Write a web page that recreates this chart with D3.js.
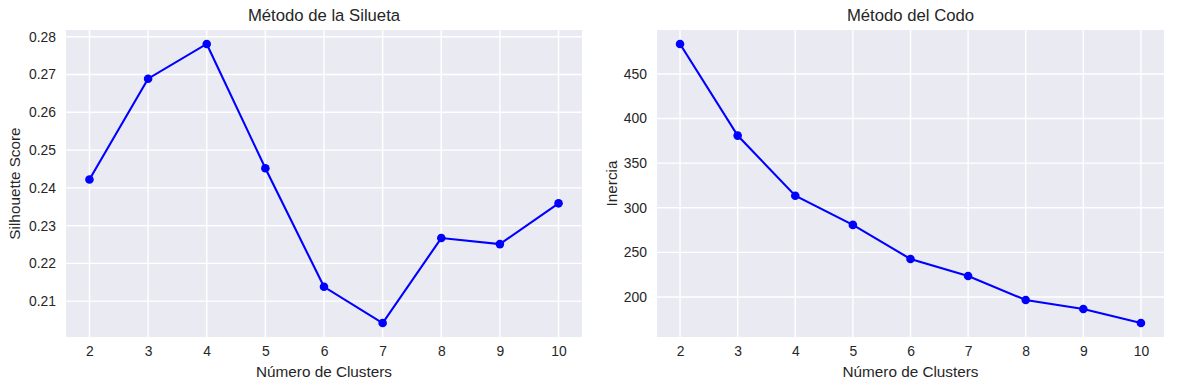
<!DOCTYPE html>
<html><head><meta charset="utf-8">
<script src="https://cdn.jsdelivr.net/npm/d3@7"></script>
<style>
body{margin:0;background:#fff;}
text{font-family:"Liberation Sans",Arial,sans-serif;fill:#262626;}
</style></head>
<body><svg id="c" width="1189" height="390"></svg>
<script>
const clusters = [2,3,4,5,6,7,8,9,10];
const silhouette = [0.2422,0.2689,0.2781,0.2452,0.2138,0.2042,0.2267,0.2251,0.2359];
const inertia = [483.6,380.9,313.5,280.8,242.6,223.6,196.6,186.5,170.8];
const silTicks = [0.21,0.22,0.23,0.24,0.25,0.26,0.27,0.28];
const inTicks = [200,250,300,350,400,450];
const xTicks = [2,3,4,5,6,7,8,9,10];

const svg = d3.select("#c");

function panel(o){
  const g = svg.append("g");
  const x = d3.scaleLinear().domain([1.6,10.4]).range([o.left,o.right]);
  const ext = d3.extent(o.values), m=(ext[1]-ext[0])*0.05;
  const y = d3.scaleLinear().domain([ext[0]-m, ext[1]+m]).range([o.bottom,o.top]);
  g.append("rect").attr("x",o.left).attr("y",o.top).attr("width",o.right-o.left).attr("height",o.bottom-o.top).attr("fill","#EAEAF2");
  g.selectAll(".vg").data(xTicks).join("line").attr("x1",d=>x(d)).attr("x2",d=>x(d)).attr("y1",o.top).attr("y2",o.bottom).attr("stroke","#fff").attr("stroke-width",1.4);
  g.selectAll(".hg").data(o.yticks).join("line").attr("y1",d=>y(d)).attr("y2",d=>y(d)).attr("x1",o.left).attr("x2",o.right).attr("stroke","#fff").attr("stroke-width",1.4);
  const xa = g.append("g").attr("transform",`translate(0,${o.bottom})`)
    .call(d3.axisBottom(x).tickValues(xTicks).tickSize(0).tickPadding(9).tickFormat(d3.format("d")));
  const ya = g.append("g").attr("transform",`translate(${o.left},0)`)
    .call(d3.axisLeft(y).tickValues(o.yticks).tickSize(0).tickPadding(10).tickFormat(o.fmt));
  [xa,ya].forEach(a=>{a.select(".domain").remove(); a.selectAll("text").attr("font-size",13.9).attr("fill","#262626").style("font-family","'Liberation Sans',Arial,sans-serif");});
  const line = d3.line().x((d,i)=>x(clusters[i])).y(d=>y(d));
  g.append("path").datum(o.values).attr("d",line).attr("fill","none").attr("stroke","#0000FF").attr("stroke-width",2.1);
  g.selectAll(".pt").data(o.values).join("circle").attr("cx",(d,i)=>x(clusters[i])).attr("cy",d=>y(d)).attr("r",4.3).attr("fill","#0000FF");
  const cx=(o.left+o.right)/2;
  g.append("text").attr("x",cx).attr("y",20.5).attr("text-anchor","middle").attr("font-size",16.7).text(o.title);
  g.append("text").attr("x",cx).attr("y",377).attr("text-anchor","middle").attr("font-size",15.3).text("Número de Clusters");
  g.append("text").attr("transform",`translate(${o.ylabX},${(o.top+o.bottom)/2}) rotate(-90)`).attr("text-anchor","middle").attr("font-size",15.3).text(o.ylabel);
}

panel({left:66,right:582,top:30,bottom:337,values:silhouette,yticks:silTicks,fmt:d3.format(".2f"),title:"Método de la Silueta",ylabel:"Silhouette Score",ylabX:20});
panel({left:657,right:1164,top:30,bottom:337,values:inertia,yticks:inTicks,fmt:d3.format("d"),title:"Método del Codo",ylabel:"Inercia",ylabX:617});
</script></body></html>
